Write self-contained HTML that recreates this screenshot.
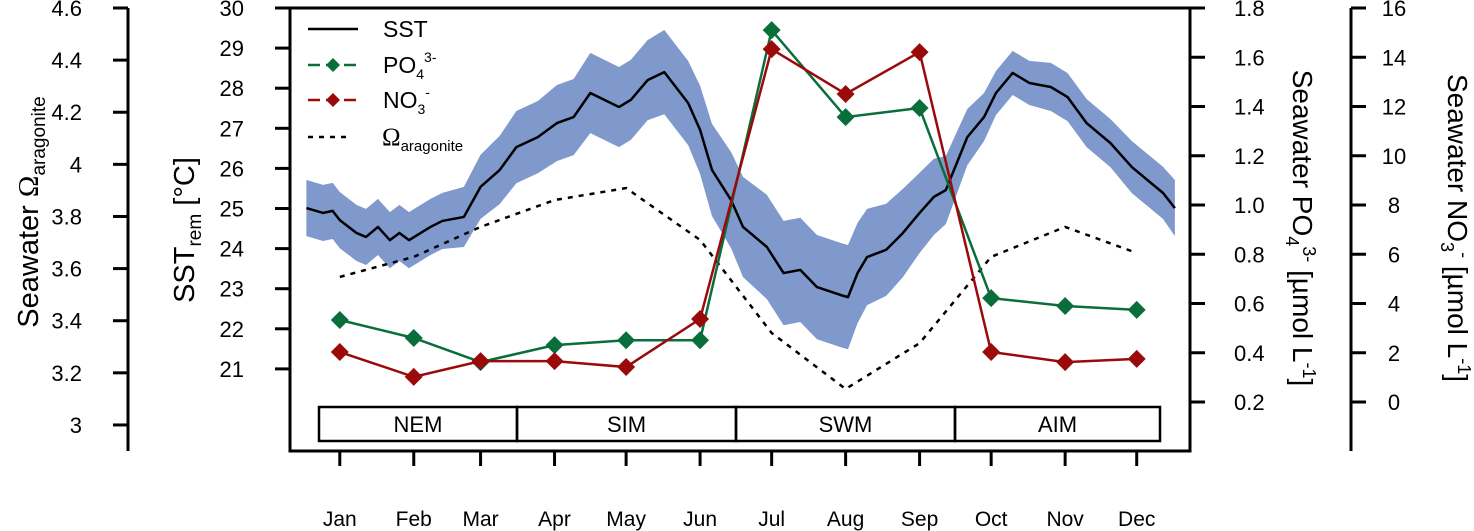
<!DOCTYPE html>
<html><head><meta charset="utf-8">
<style>
html,body{margin:0;padding:0;background:#fff;}
svg{display:block;font-family:"Liberation Sans",sans-serif;}
</style></head>
<body>
<svg id="chart" width="1474" height="531" viewBox="0 0 1474 531" xmlns="http://www.w3.org/2000/svg">
<g id="band"></g>
<g id="marks"></g>
<g id="axes"></g>
<g id="legend">
  <line x1="308" y1="29" x2="358" y2="29" stroke="#000" stroke-width="2.5"/>
  <text x="383" y="37" font-size="23">SST</text>
  <line x1="308" y1="65" x2="358" y2="65" stroke="#0a6e3a" stroke-width="2.5" stroke-dasharray="12,6"/>
  <path d="M333 58 L340 65 L333 72 L326 65Z" fill="#0a6e3a"/>
  <text x="383" y="73" font-size="23">PO<tspan font-size="14" dy="6">4</tspan><tspan font-size="14" dy="-17">3-</tspan></text>
  <line x1="308" y1="100" x2="358" y2="100" stroke="#9b0a0a" stroke-width="2.5" stroke-dasharray="12,6"/>
  <path d="M333 93 L340 100 L333 107 L326 100Z" fill="#9b0a0a"/>
  <text x="383" y="108" font-size="23">NO<tspan font-size="14" dy="6">3</tspan><tspan font-size="14" dy="-17">-</tspan></text>
  <line x1="308" y1="137" x2="350" y2="137" stroke="#000" stroke-width="2.5" stroke-dasharray="5,6"/>
  <text x="382" y="145" font-size="25" font-family="Liberation Serif,serif">Ω<tspan font-size="15" dy="6" font-family="Liberation Sans,sans-serif">aragonite</tspan></text>
</g>
<g id="seasons"></g>
<g id="titles">
  <text transform="translate(38,212) rotate(-90)" text-anchor="middle" font-size="29">Seawater <tspan font-family="Liberation Serif,serif">Ω</tspan><tspan font-size="19" dy="7">aragonite</tspan></text>
  <text transform="translate(194,230) rotate(-90)" text-anchor="middle" font-size="29">SST<tspan font-size="19" dy="7">rem</tspan><tspan dy="-7"> [°C]</tspan></text>
  <text transform="translate(1293,228) rotate(90)" text-anchor="middle" font-size="28">Seawater PO<tspan font-size="18" dy="7">4</tspan><tspan font-size="18" dy="-17">3-</tspan><tspan dy="10"> [µmol L</tspan><tspan font-size="18" dy="-10">-1</tspan><tspan dy="10">]</tspan></text>
  <text transform="translate(1448,228) rotate(90)" text-anchor="middle" font-size="28">Seawater NO<tspan font-size="18" dy="7">3</tspan><tspan font-size="18" dy="-17">-</tspan><tspan dy="10"> [µmol L</tspan><tspan font-size="18" dy="-10">-1</tspan><tspan dy="10">]</tspan></text>
</g>
</svg>
<script>
const months = ["Jan","Feb","Mar","Apr","May","Jun","Jul","Aug","Sep","Oct","Nov","Dec"];
const monthDays = [15,46,74,105,135,166,196,227,258,288,319,349];
const po4Values = [0.533,0.46,0.362,0.431,0.451,0.451,1.71,1.357,1.394,0.622,0.59,0.574];
const no3Values = [2.03,1.02,1.66,1.66,1.42,3.37,14.33,12.51,14.21,2.03,1.62,1.75];
const omegaValues = [3.568,3.645,3.76,3.863,3.909,3.71,3.353,3.138,3.314,3.645,3.76,3.66];
const sstDays = [1,8,12,15,22,26,31,36,40,44,53,58,67,74,82,89,98,106,113,120,132,137,144,151,161,166,171,179,184,194,201,208,215,225,228,232,236,244,251,258,264,269,278,285,290,297,304,313,320,328,338,347,360,365];
const sstMean = [25.01,24.89,24.94,24.71,24.39,24.29,24.54,24.21,24.39,24.21,24.54,24.69,24.79,25.54,25.96,26.53,26.78,27.13,27.28,27.88,27.53,27.71,28.2,28.4,27.63,26.96,25.96,25.21,24.54,24.04,23.39,23.47,23.04,22.84,22.79,23.39,23.79,23.97,24.39,24.89,25.29,25.46,26.78,27.28,27.88,28.38,28.13,28.03,27.78,27.13,26.63,26.03,25.39,25.01];
const sstSpread = [0.7,0.7,0.7,0.7,0.7,0.7,0.7,0.7,0.7,0.7,0.7,0.7,0.75,0.8,0.85,0.9,0.9,0.95,0.95,1.0,1.0,1.0,1.0,1.05,1.05,1.1,1.15,1.2,1.25,1.3,1.3,1.3,1.3,1.3,1.3,1.25,1.2,1.15,1.1,1.0,0.95,0.85,0.7,0.6,0.55,0.55,0.55,0.6,0.6,0.6,0.6,0.65,0.65,0.7];
const sstTicks = [21,22,23,24,25,26,27,28,29,30];
const omegaTicks = ["3","3.2","3.4","3.6","3.8","4","4.2","4.4","4.6"];
const po4Ticks = ["0.2","0.4","0.6","0.8","1.0","1.2","1.4","1.6","1.8"];
const no3Ticks = [0,2,4,6,8,10,12,14,16];
const seasons = ["NEM","SIM","SWM","AIM"];

const NS="http://www.w3.org/2000/svg";
const xDay = d => 304 + d*2.386;
const ySST = v => 8 + (30-v)*40.1;
const yOmega = v => 8 + (4.6-v)*260.6;
const yPO4 = v => 402 - (v-0.2)*246.25;
const yNO3 = v => 402 - v*24.625;
function mk(tag, attrs, parent){const e=document.createElementNS(NS,tag);for(const k in attrs)e.setAttribute(k,attrs[k]);parent.appendChild(e);return e;}
const band=document.getElementById('band'), marks=document.getElementById('marks'), axes=document.getElementById('axes'), seas=document.getElementById('seasons');

let up=sstDays.map((d,i)=>xDay(d)+','+ySST(sstMean[i]+sstSpread[i]));
let lo=sstDays.map((d,i)=>xDay(d)+','+ySST(sstMean[i]-sstSpread[i])).reverse();
const bp=mk('polygon',{points:up.concat(lo).join(' '),fill:'#7f99cc'},band);


const om=mk('polyline',{points:monthDays.map((d,i)=>xDay(d)+','+yOmega(omegaValues[i])).join(' '),fill:'none',stroke:'#000','stroke-width':2.5,'stroke-dasharray':'5,6'},marks);


const sl=mk('polyline',{points:sstDays.map((d,i)=>xDay(d)+','+ySST(sstMean[i])).join(' '),fill:'none',stroke:'#000','stroke-width':2.5,'stroke-linejoin':'round'},marks);


function series(vals,yf,col,name){
  const l=mk('polyline',{points:monthDays.map((d,i)=>xDay(d)+','+yf(vals[i])).join(' '),fill:'none',stroke:col,'stroke-width':2.5},marks);
  
  
  vals.forEach((v,i)=>{const x=xDay(monthDays[i]),y=yf(v);
    const p=mk('path',{d:`M${x} ${y-9}L${x+9} ${y}L${x} ${y+9}L${x-9} ${y}Z`,fill:col},marks);
    
    });
}
series(po4Values,yPO4,'#0a6e3a','po4');
series(no3Values,yNO3,'#9b0a0a','no3');

const box=mk('rect',{x:290,y:8,width:900,height:443,fill:'none',stroke:'#000','stroke-width':3},axes);


function vAxis(x,dir,ticks,yf,name,lblx,anchor){
  const a=mk('line',{x1:x,y1:8,x2:x,y2:451,stroke:'#000','stroke-width':3},axes);
  
  
  ticks.forEach(t=>{const y=yf(+t);
    const tk=mk('line',{x1:x,y1:y,x2:x+dir*15,y2:y,stroke:'#000','stroke-width':3},axes);
    
    
    const tx=mk('text',{x:lblx,y:y+8,'font-size':22,'text-anchor':anchor},axes);tx.textContent=t;
    
    });
}
vAxis(128,-1,omegaTicks,yOmega,'omega',82,'end');
vAxis(290,-1,sstTicks,ySST,'sst',244,'end');
vAxis(1190,1,po4Ticks,yPO4,'po4',1234,'start');
vAxis(1351,1,no3Ticks,yNO3,'no3',1394,'middle');
months.forEach((m,i)=>{const x=xDay(monthDays[i]);
  const tk=mk('line',{x1:x,y1:451,x2:x,y2:466,stroke:'#000','stroke-width':3},axes);
  
  
  const t=mk('text',{x:x,y:526,'font-size':21,'text-anchor':'middle'},axes);t.textContent=m;
  
  });
const sx=[319,517,736,955,1160];
seasons.forEach((s,i)=>{
  const r=mk('rect',{x:sx[i],y:407,width:sx[i+1]-sx[i],height:34,fill:'none',stroke:'#000','stroke-width':2.5},seas);
  
  
  const t=mk('text',{x:(sx[i]+sx[i+1])/2,y:432,'font-size':22,'text-anchor':'middle'},seas);t.textContent=s;
  
  });
</script>
</body></html>
